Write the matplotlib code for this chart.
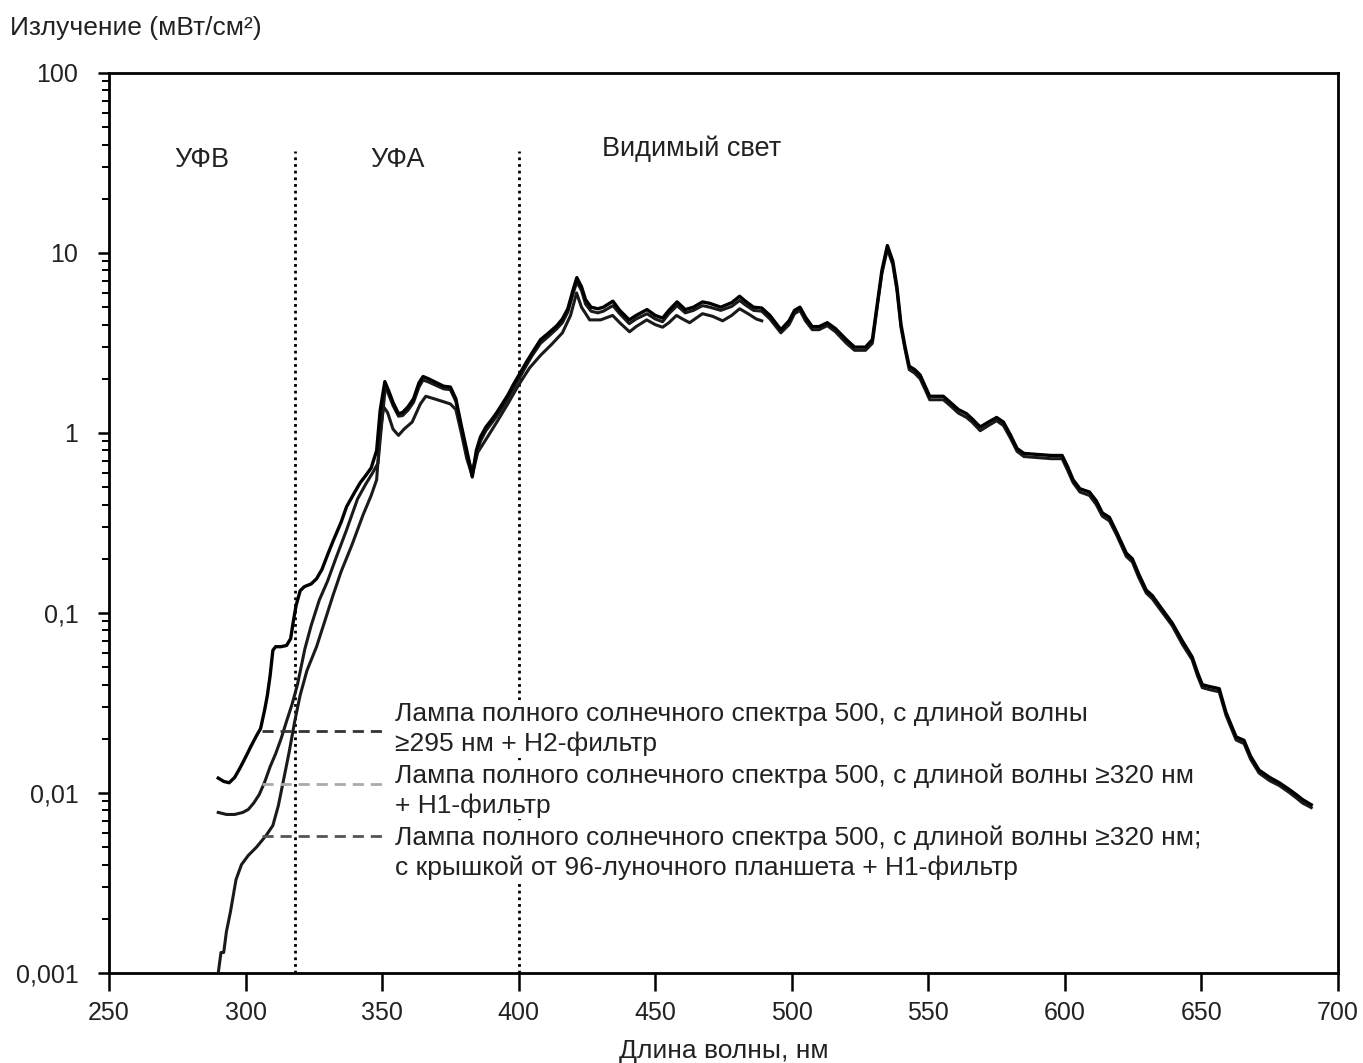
import matplotlib
matplotlib.use("Agg")
import matplotlib.pyplot as plt
from matplotlib.lines import Line2D
from matplotlib.legend_handler import HandlerLine2D
from matplotlib.ticker import FixedLocator, FixedFormatter, LogLocator, NullFormatter

plt.rcParams['font.family'] = ['Liberation Sans', 'DejaVu Sans']

# ---------------- data ----------------
# Series 1: lamp >=295 nm + H2 filter
wl_s1 = [290, 292, 294, 296, 298, 300, 302, 304, 305.5, 307, 308, 309, 310, 311, 313, 315,
         316.5, 317.5, 318.5, 320, 321.5, 324, 326, 328, 330, 332, 335, 337, 340, 342, 344, 346,
         348, 349.3, 351, 352.5, 354, 356, 357.5, 359.5, 361.5, 363.5, 365, 367, 370, 372.5, 375,
         377, 379, 381, 383, 384.5, 386, 388, 390, 392, 394, 396, 398, 400.5, 403, 405, 408, 411,
         414, 416, 418, 420, 421.3, 423, 424.5, 426.5, 429, 431, 434.5, 437, 440.5, 443, 447, 450,
         452.7, 455, 458, 461, 464, 467.3, 470, 474, 478, 480.9, 483, 486, 489, 492, 496, 499, 501,
         503, 505, 507.5, 510, 513, 516, 520, 523, 527, 529.5, 531.5, 533, 535, 537, 538.5, 540,
         541.5, 543, 545, 547, 549, 550.5, 553, 555.5, 558, 561, 564, 566, 569, 572, 575, 577.5,
         580, 582.5, 585, 590, 595, 599, 601, 603, 605.5, 609, 611.5, 613.7, 616.3, 619, 622.5,
         624.7, 627, 629.8, 632, 635, 639.3, 643, 646.6, 648.5, 650.3, 653, 656.5, 659, 662.7,
         665.6, 668, 671.1, 675, 678.5, 682, 684.7, 687, 690.2]
irr_s1 = [0.0121, 0.0116, 0.0114, 0.0122, 0.0138, 0.0158, 0.0182, 0.0208, 0.0228, 0.029, 0.035,
          0.045, 0.062, 0.065, 0.065, 0.066, 0.072, 0.09, 0.11, 0.133, 0.14, 0.145, 0.155, 0.175,
          0.21, 0.25, 0.32, 0.39, 0.47, 0.53, 0.58, 0.64, 0.8, 1.34, 1.93, 1.7, 1.48, 1.28, 1.3,
          1.4, 1.55, 1.9, 2.06, 2.0, 1.9, 1.82, 1.8, 1.55, 1.1, 0.8, 0.57, 0.8, 0.95, 1.08, 1.18,
          1.3, 1.45, 1.62, 1.85, 2.15, 2.5, 2.8, 3.3, 3.6, 3.95, 4.3, 4.9, 6.3, 7.3, 6.5, 5.5, 5.0,
          4.9, 5.0, 5.4, 4.8, 4.25, 4.5, 4.85, 4.5, 4.35, 4.8, 5.35, 4.85, 5.0, 5.35, 5.25, 5.0,
          5.3, 5.75, 5.4, 5.0, 4.95, 4.5, 3.75, 4.2, 4.8, 5.0, 4.4, 3.9, 3.9, 4.1, 3.8, 3.3, 3.0,
          3.0, 3.3, 5.5, 8.0, 11.0, 9.0, 6.5, 4.0, 3.0, 2.35, 2.25, 2.1, 1.8, 1.6, 1.6, 1.6, 1.48,
          1.35, 1.28, 1.2, 1.08, 1.15, 1.22, 1.15, 0.98, 0.82, 0.77, 0.76, 0.75, 0.75, 0.65, 0.55,
          0.49, 0.47, 0.42, 0.36, 0.34, 0.28, 0.215, 0.20, 0.165, 0.134, 0.125, 0.108, 0.088,
          0.07, 0.057, 0.047, 0.04, 0.039, 0.038, 0.028, 0.0205, 0.0196, 0.016, 0.0134, 0.0122,
          0.0114, 0.0105, 0.0098, 0.0092, 0.0086]

# Series 2: lamp >=320 nm + H1 filter
wl_s2 = [290, 293, 296, 299, 301, 303, 305, 307, 309, 311, 313, 315, 317, 319, 321.7, 324, 327,
         330, 333, 337, 341, 344, 346.5, 348.5, 350, 351.3, 352.5, 354, 356, 357.5, 359.5, 361.5,
         363.5, 365, 367, 370, 372.5, 375, 377, 379, 381, 383, 384.5, 386, 388, 390, 392, 394,
         396, 398, 400.5, 403, 405, 408, 411, 414, 416, 418, 420, 421.3, 423, 424.5, 426.5, 429,
         431, 434.5, 437, 440.5, 443, 447, 450, 452.7, 455, 458, 461, 464, 467.3, 470, 474, 478,
         480.9, 483, 486, 489, 492, 496, 499, 501, 503, 505, 507.5, 510, 513, 516, 520, 523, 527,
         529.5, 531.5, 533, 535, 537, 538.5, 540, 541.5, 543, 545, 547, 549, 550.5, 553, 555.5,
         558, 561, 564, 566, 569, 572, 575, 577.5, 580, 582.5, 585, 590, 595, 599, 601, 603,
         605.5, 609, 611.5, 613.7, 616.3, 619, 622.5, 624.7, 627, 629.8, 632, 635, 639.3, 643,
         646.6, 648.5, 650.3, 653, 656.5, 659, 662.7, 665.6, 668, 671.1, 675, 678.5, 682, 684.7,
         687, 690.2]
irr_s2 = [0.0078, 0.0076, 0.0076, 0.0078, 0.0081, 0.0088, 0.0098, 0.0115, 0.014, 0.0165, 0.02,
          0.025, 0.031, 0.04, 0.063, 0.085, 0.118, 0.15, 0.2, 0.29, 0.43, 0.52, 0.6, 0.68, 1.2,
          1.85, 1.62, 1.42, 1.24, 1.25, 1.34, 1.48, 1.8, 1.97, 1.92, 1.83, 1.76, 1.74, 1.5, 1.06,
          0.78, 0.6, 0.77, 0.9, 1.03, 1.13, 1.24, 1.38, 1.55, 1.76, 2.05, 2.4, 2.7, 3.15, 3.45,
          3.8, 4.1, 4.7, 6.0, 6.9, 6.2, 5.2, 4.75, 4.65, 4.75, 5.1, 4.6, 4.05, 4.3, 4.6, 4.3,
          4.15, 4.6, 5.1, 4.65, 4.8, 5.1, 5.0, 4.8, 5.05, 5.45, 5.15, 4.8, 4.75, 4.3, 3.6, 4.0,
          4.6, 4.8, 4.2, 3.75, 3.75, 3.95, 3.65, 3.15, 2.88, 2.88, 3.15, 5.3, 7.7, 10.5, 8.6,
          6.2, 3.85, 2.9, 2.25, 2.15, 2.0, 1.72, 1.53, 1.53, 1.53, 1.42, 1.29, 1.22, 1.15, 1.03,
          1.1, 1.17, 1.1, 0.94, 0.79, 0.74, 0.73, 0.72, 0.72, 0.62, 0.53, 0.47, 0.45, 0.4, 0.345,
          0.325, 0.27, 0.206, 0.192, 0.158, 0.129, 0.12, 0.104, 0.085, 0.067, 0.055, 0.045,
          0.0385, 0.0375, 0.0365, 0.027, 0.0197, 0.0188, 0.0154, 0.0129, 0.0117, 0.011, 0.0101,
          0.0094, 0.0088, 0.0083]

# Series 3: lamp >=320 nm, 96-well plate lid + H1 filter
wl_s3 = [290, 291, 292, 293, 294.5, 296.5, 298.5, 301, 304, 307.5, 310, 312, 314, 316, 318, 320,
         322.5, 326, 329, 332, 335, 339, 343, 346, 348, 349, 350.5, 352, 354, 356, 358, 361, 364,
         366, 369, 372, 375, 377, 379, 381, 383, 385, 388, 392, 396, 400, 404, 408, 412, 416,
         419, 421.2, 423, 426, 430, 434.4, 437, 440.6, 443, 446.9, 450, 452.7, 455, 457.8, 460,
         462.6, 465, 467.3, 471, 474.7, 478, 480.9, 484, 487, 489]
irr_s3 = [0.001, 0.0013, 0.0013, 0.0017, 0.0022, 0.0033, 0.004, 0.0045, 0.005, 0.0058, 0.0066,
          0.0085, 0.012, 0.017, 0.025, 0.035, 0.048, 0.065, 0.09, 0.125, 0.17, 0.24, 0.35, 0.45,
          0.55, 0.9, 1.4, 1.3, 1.05, 0.97, 1.05, 1.15, 1.45, 1.6, 1.55, 1.5, 1.45, 1.35, 1.0,
          0.72, 0.58, 0.78, 0.92, 1.15, 1.45, 1.85, 2.3, 2.7, 3.1, 3.6, 4.5, 6.0, 5.0, 4.25, 4.25,
          4.5, 4.1, 3.65, 3.9, 4.25, 4.0, 3.87, 4.1, 4.5, 4.3, 4.1, 4.35, 4.6, 4.45, 4.2, 4.5,
          4.9, 4.6, 4.3, 4.2]

series_labels = [
    "Лампа полного солнечного спектра 500, с длиной волны\n≥295 нм + Н2-фильтр",
    "Лампа полного солнечного спектра 500, с длиной волны ≥320 нм\n+ Н1-фильтр",
    "Лампа полного солнечного спектра 500, с длиной волны ≥320 нм;\nс крышкой от 96-луночного планшета + Н1-фильтр",
]

region_names = ["УФВ", "УФА", "Видимый свет"]
region_label_x = [284, 355.5, 463.5]
region_label_y = [33, 33, 38]
region_bounds = [318, 400]
bound_top = 37

x_ticks = [250, 300, 350, 400, 450, 500, 550, 600, 650, 700]
y_ticks = [0.001, 0.01, 0.1, 1, 10, 100]
y_tick_labels = ["0,001", "0,01", "0,1", "1", "10", "100"]


class ShiftedLineHandler(HandlerLine2D):
    """Legend line handler with a vertical shift (points, positive = up)."""

    def __init__(self, shift, **kw):
        super().__init__(**kw)
        self.shift = shift

    def create_artists(self, legend, orig_handle, xdescent, ydescent, width, height,
                       fontsize, trans):
        return super().create_artists(legend, orig_handle, xdescent,
                                      ydescent - 2 * self.shift, width, height,
                                      fontsize, trans)


# ---------------- figure ----------------
fig = plt.figure(figsize=(13.63, 10.63), dpi=100)
ax = fig.add_axes([109 / 1363, 90 / 1063, 1229 / 1363, 900 / 1063])

ax.plot(wl_s3, irr_s3, color="#1a1a1a", lw=2.2, zorder=3)
ax.plot(wl_s2, irr_s2, color="#1a1a1a", lw=2.2, zorder=3)
ax.plot(wl_s1, irr_s1, color="black", lw=2.4, zorder=4)

for xb in region_bounds:
    ax.vlines(xb, 0.001, bound_top, colors="black", linestyles=(0, (1, 1.4)), lw=2.0, zorder=2)

for name, xx, yy in zip(region_names, region_label_x, region_label_y):
    ax.text(xx, yy, name, ha="center", va="center", fontsize=19.5, color="#222222")

ax.set_yscale("log")
ax.set_xlim(250, 700)
ax.set_ylim(0.001, 100)
ax.xaxis.set_major_locator(FixedLocator(x_ticks))
ax.yaxis.set_major_locator(FixedLocator(y_ticks))
ax.yaxis.set_major_formatter(FixedFormatter(y_tick_labels))
ax.yaxis.set_minor_locator(LogLocator(base=10, subs=range(2, 10)))
ax.yaxis.set_minor_formatter(NullFormatter())

for sp in ax.spines.values():
    sp.set_linewidth(2.0)
ax.tick_params(axis="x", which="major", direction="out", length=13, width=1.8,
               labelsize=18, pad=7, colors="black", labelcolor="#222222")
ax.tick_params(axis="y", which="major", direction="out", length=8, width=1.8,
               labelsize=18, pad=14, labelcolor="#222222")
ax.tick_params(axis="y", which="minor", direction="out", length=5, width=1.4)

ax.set_xlabel("Длина волны, нм", fontsize=19, labelpad=10, color="#222222")
fig.text(10 / 1363, 1 - 28 / 1063, "Излучение (мВт/см²)", fontsize=19, va="center",
         ha="left", color="#222222")

handles = [
    Line2D([], [], color="#333333", lw=2, ls=(0, (4, 2.5))),
    Line2D([], [], color="#aaaaaa", lw=2, ls=(0, (4, 2.5))),
    Line2D([], [], color="#555555", lw=2, ls=(0, (4, 2.5))),
]
handler_map = {
    handles[0]: ShiftedLineHandler(-1.5),
    handles[1]: ShiftedLineHandler(5.0),
    handles[2]: ShiftedLineHandler(12.0),
}
leg = ax.legend(handles, series_labels, loc="upper left", bbox_to_anchor=(0.1245, 0.302),
                frameon=False, fontsize=19, handlelength=4.6, handletextpad=0.44,
                labelspacing=0.26, borderpad=0, borderaxespad=0, handler_map=handler_map)
for t in leg.get_texts():
    t.set_color("#222222")
    t.set_linespacing(1.31)
    t.set_bbox(dict(facecolor="white", edgecolor="none", pad=1))
leg.set_zorder(5)

fig.savefig("out.png", dpi=100, facecolor="white")
